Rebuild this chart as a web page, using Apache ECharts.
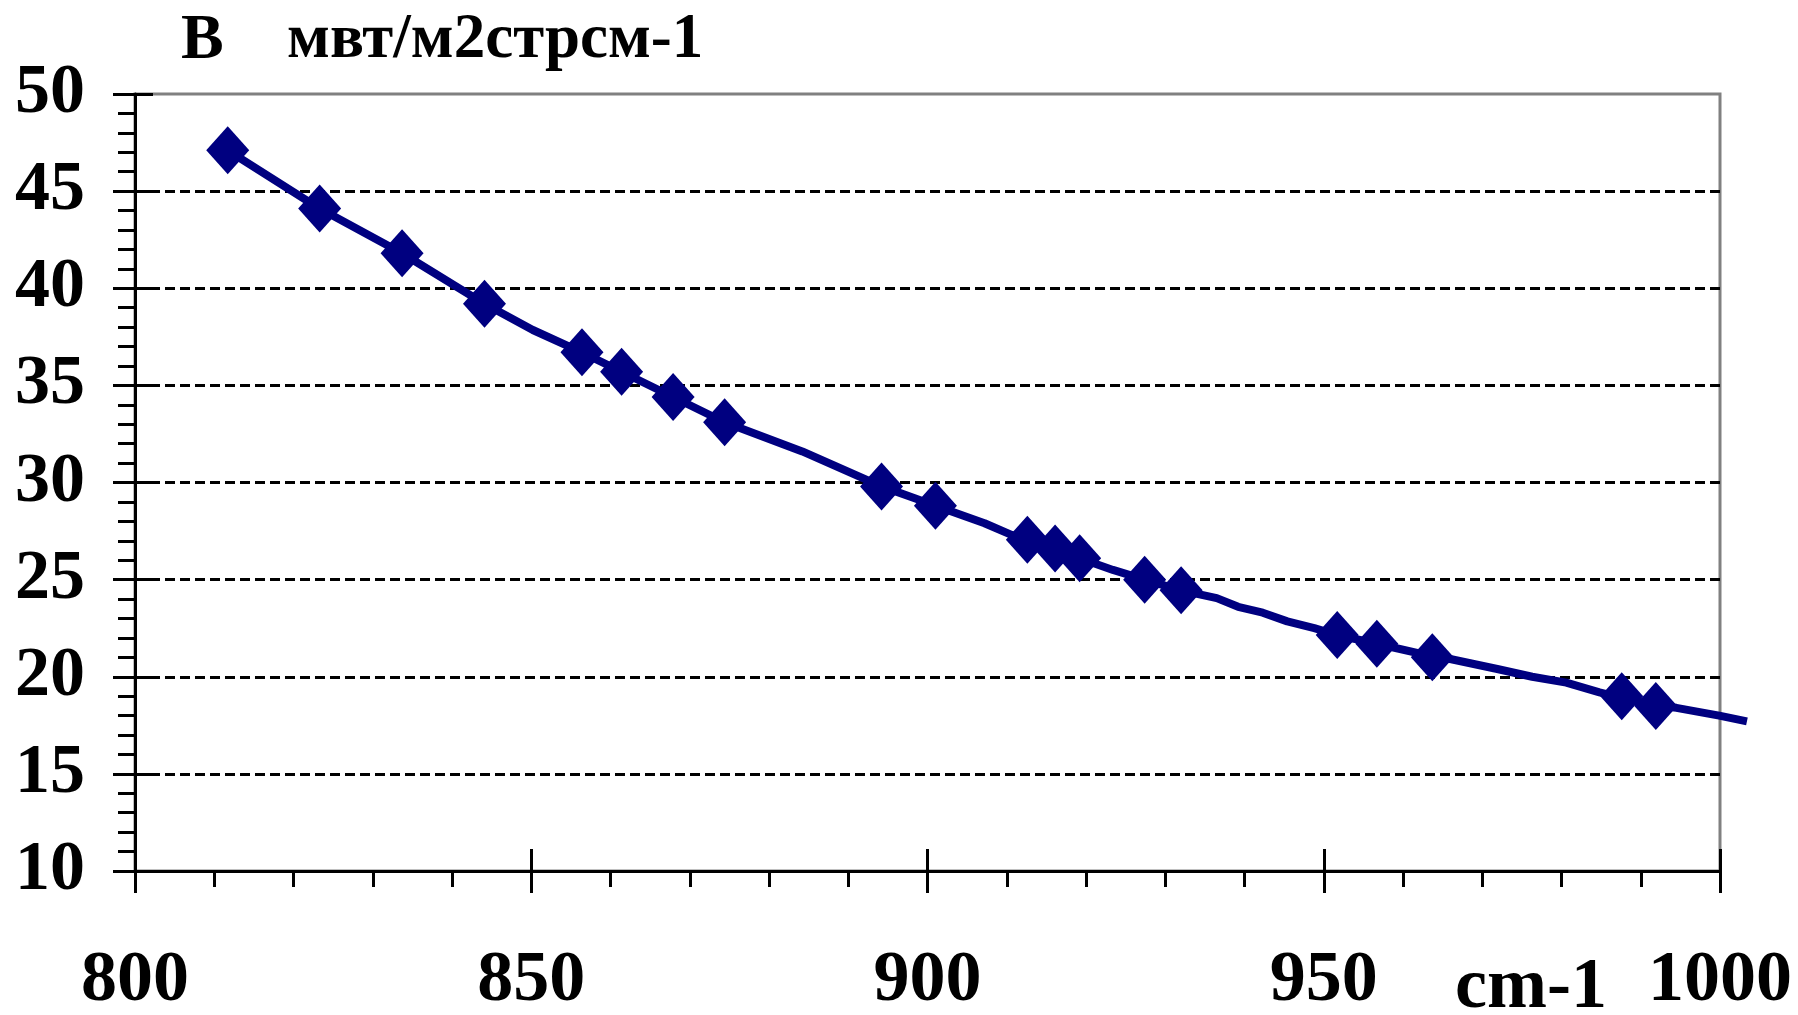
<!DOCTYPE html>
<html>
<head>
<meta charset="utf-8">
<script src="https://cdn.jsdelivr.net/npm/echarts@6/dist/echarts.min.js"></script>
<style>
html, body { margin: 0; padding: 0; background: #fff; }
#chart { width: 1798px; height: 1015px; }
</style>
</head>
<body>
<div id="chart"></div>
<script>
// measured points (diamonds)
const pointX = [811.7, 823.3, 833.7, 844.1, 856.4, 861.4, 867.9, 874.4, 894.2, 901.0,
  912.6, 916.1, 919.2, 927.4, 932.0, 951.7, 956.7, 963.7, 987.6, 991.9];
const pointY = [47.1, 44.1, 41.8, 39.2, 36.7, 35.7, 34.4, 33.1, 29.8, 28.8,
  27.05, 26.6, 26.1, 25.0, 24.45, 22.15, 21.7, 21.0, 19.0, 18.5];

// curve
const curveX = [811.7, 823.3, 833.7, 844.1, 850.2, 856.4, 861.4, 867.9, 874.4, 884.2,
  894.2, 898.3, 901.0, 907.2, 910.6, 912.6, 916.1, 919.2, 923.4, 927.4,
  932.0, 936.5, 939.2, 942.3, 945.4, 948.8, 951.7, 956.7, 963.7, 966.1,
  971.9, 976.3, 980.6, 984.8, 987.7, 992.2, 994.5, 999.9, 1003.4];
const curveY = [47.1, 44.1, 41.8, 39.2, 37.85, 36.7, 35.7, 34.4, 33.1, 31.6,
  29.8, 29.2, 28.8, 27.9, 27.3, 27.05, 26.6, 26.1, 25.5, 25.0,
  24.45, 24.05, 23.6, 23.3, 22.85, 22.5, 22.15, 21.7, 21.05, 20.9,
  20.4, 20.0, 19.7, 19.2, 18.9, 18.5, 18.4, 18.0, 17.7];

const xTicks = [800, 850, 900, 950, 1000];
const yTicks = [10, 15, 20, 25, 30, 35, 40, 45, 50];

const font = 'Liberation Serif';
const navy = '#000080';

// plot box (px)
const gLeft = 135, gRight = 78, gTop = 94, gBottom = 144;
const plotW = 1798 - gLeft - gRight;
// the curve runs a little past 1000, so it gets its own wider grid with the same scale
const curveMax = 1006;
const curveRight = 1798 - gLeft - plotW * (curveMax - xTicks[0]) / (xTicks[4] - xTicks[0]);

const myChart = echarts.init(document.getElementById('chart'));

const baseX = {
  type: 'value',
  min: xTicks[0],
  max: xTicks[xTicks.length - 1],
  interval: 50
};
const baseY = {
  type: 'value',
  min: yTicks[0],
  max: yTicks[yTicks.length - 1],
  interval: 5
};
const hidden = {
  axisLine: { show: false },
  axisTick: { show: false },
  axisLabel: { show: false },
  splitLine: { show: false }
};

const chartOption = {
  animation: false,
  backgroundColor: '#fff',
  title: [
    {
      text: 'B',
      left: 176,
      top: 4,
      textStyle: { color: '#000', fontFamily: font, fontWeight: 'bold', fontSize: 64 }
    },
    {
      text: 'мвт/м2стрсм-1',
      left: 282,
      top: 4,
      textStyle: { color: '#000', fontFamily: font, fontWeight: 'bold', fontSize: 63 }
    },
    {
      text: 'cm-1',
      left: 1450,
      top: 947,
      textStyle: { color: '#000', fontFamily: font, fontWeight: 'bold', fontSize: 72 }
    }
  ],
  grid: [
    {
      left: gLeft,
      right: gRight,
      top: gTop,
      bottom: gBottom,
      outerBoundsMode: 'none',
      containLabel: false,
      show: true,
      borderColor: '#808080',
      borderWidth: 3,
      backgroundColor: 'transparent'
    },
    {
      left: gLeft,
      right: curveRight,
      top: gTop,
      bottom: gBottom,
      outerBoundsMode: 'none',
      containLabel: false
    }
  ],
  xAxis: [
    Object.assign({}, baseX, {
      gridIndex: 0,
      axisLine: { show: true, lineStyle: { color: '#000', width: 3 } },
      axisTick: { show: true, length: 22, lineStyle: { color: '#000', width: 3 } },
      minorTick: { show: true, splitNumber: 5, length: 16, lineStyle: { color: '#000', width: 3 } },
      axisLabel: {
        margin: 74,
        color: '#000',
        fontFamily: font,
        fontWeight: 'bold',
        fontSize: 72,
        showMaxLabel: true,
        showMinLabel: true,
        formatter: (v) => String(v)
      },
      splitLine: { show: false }
    }),
    // inner half of major ticks
    Object.assign({}, baseX, hidden, {
      gridIndex: 0,
      position: 'bottom',
      axisTick: { show: true, inside: true, length: 22, lineStyle: { color: '#000', width: 3 } }
    }),
    Object.assign({}, hidden, {
      gridIndex: 1,
      type: 'value',
      min: xTicks[0],
      max: curveMax
    })
  ],
  yAxis: [
    Object.assign({}, baseY, {
      gridIndex: 0,
      axisLine: { show: true, lineStyle: { color: '#000', width: 3 } },
      axisTick: { show: true, length: 22, lineStyle: { color: '#000', width: 3 } },
      minorTick: { show: true, splitNumber: 5, length: 17, lineStyle: { color: '#000', width: 3 } },
      axisLabel: {
        margin: 50,
        color: '#000',
        fontFamily: font,
        fontWeight: 'bold',
        fontSize: 70
      },
      splitLine: {
        show: true,
        showMinLine: false,
        showMaxLine: false,
        lineStyle: { color: '#000', width: 3, type: [10, 5] }
      }
    }),
    Object.assign({}, baseY, hidden, {
      gridIndex: 0,
      position: 'left',
      axisTick: { show: true, inside: true, length: 18, lineStyle: { color: '#000', width: 3 } }
    }),
    Object.assign({}, baseY, hidden, {
      gridIndex: 1
    })
  ],
  series: [
    {
      name: 'curve',
      type: 'line',
      xAxisIndex: 2,
      yAxisIndex: 2,
      data: curveX.map((x, i) => [x, curveY[i]]),
      showSymbol: false,
      symbol: 'none',
      clip: false,
      lineStyle: { color: navy, width: 8 },
      z: 3
    },
    {
      name: 'points',
      type: 'scatter',
      xAxisIndex: 0,
      yAxisIndex: 0,
      data: pointX.map((x, i) => [x, pointY[i]]),
      symbol: 'diamond',
      symbolSize: [43, 48],
      itemStyle: { color: navy, opacity: 1 },
      clip: false,
      z: 4
    }
  ]
};

myChart.setOption(chartOption);
</script>
</body>
</html>
